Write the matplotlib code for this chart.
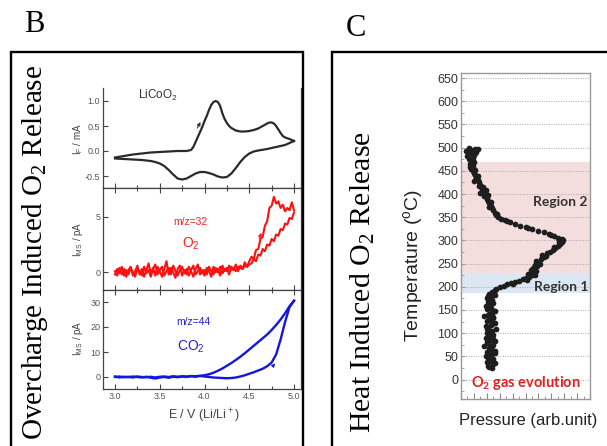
import numpy as np
import matplotlib
matplotlib.use('Agg')
import matplotlib.pyplot as plt
from matplotlib.patches import Rectangle
from matplotlib.ticker import MultipleLocator, FormatStrFormatter

plt.rcParams['font.family'] = ['Liberation Sans', 'DejaVu Sans']

W, H = 607, 446

# ---------------- Panel B data ----------------
cv_fwd_E = [3.00, 3.10, 3.20, 3.30, 3.40, 3.50, 3.60, 3.70, 3.80, 3.85, 3.875, 3.90, 3.925, 3.95,
            3.975, 4.00, 4.025, 4.05, 4.075, 4.10, 4.125, 4.15, 4.175, 4.20, 4.225, 4.25, 4.275,
            4.30, 4.35, 4.40, 4.45, 4.50, 4.55, 4.60, 4.65, 4.70, 4.725, 4.75, 4.775, 4.80, 4.825,
            4.85, 4.875, 4.90, 4.95, 5.00]
cv_fwd_I = [-0.13, -0.10, -0.07, -0.05, -0.03, -0.02, -0.01, 0.0, 0.0, 0.02, 0.08, 0.18, 0.28, 0.38,
            0.48, 0.60, 0.70, 0.82, 0.92, 0.98, 1.00, 0.98, 0.90, 0.75, 0.64, 0.56, 0.50,
            0.46, 0.41, 0.39, 0.39, 0.40, 0.42, 0.45, 0.50, 0.55, 0.57, 0.57, 0.55, 0.50, 0.43,
            0.36, 0.30, 0.27, 0.24, 0.20]
cv_rev_E = [3.00, 3.10, 3.20, 3.30, 3.40, 3.45, 3.50, 3.55, 3.60, 3.65, 3.70, 3.75, 3.80, 3.85,
            3.90, 3.95, 4.00, 4.05, 4.10, 4.15, 4.20, 4.25, 4.30, 4.35, 4.40, 4.45, 4.50, 4.55,
            4.60, 4.70, 4.80, 4.90, 5.00]
cv_rev_I = [-0.15, -0.16, -0.17, -0.18, -0.20, -0.22, -0.25, -0.30, -0.38, -0.47, -0.55, -0.57,
            -0.55, -0.50, -0.45, -0.42, -0.42, -0.44, -0.47, -0.51, -0.53, -0.52, -0.45, -0.34,
            -0.22, -0.12, -0.05, -0.01, 0.01, 0.04, 0.08, 0.12, 0.20]

o2_E = np.round(np.arange(3.0, 5.0001, 0.025), 3)
o2_fwd = [0.1, -0.3, 0.4, -0.2, 0.3, -0.4, 0.2, 0.5, -0.3, 0.1,
          0.6, -0.2, 0.3, -0.4, 0.2, 0.8, -0.1, 0.4, -0.3, 0.5,
          0.1, -0.4, 0.3, 1.0, -0.2, 0.4, 0.0, -0.5, 0.3, 0.6,
          -0.3, 0.2, -0.2, 0.5, 0.1, -0.4, 0.3, 0.7, -0.2, 0.2,
          -0.3, 0.4, 0.1, -0.4, 0.5, 0.0, 0.3, -0.3, 0.6, 0.1,
          0.4, -0.2, 0.5, 0.2, 0.7, 0.1, 0.6, 0.3, 0.9, 0.5,
          1.0, 1.4, 1.2, 2.0, 2.1, 3.0, 3.2, 4.2, 4.6, 5.8,
          6.0, 6.8, 6.2, 6.4, 5.8, 6.1, 5.5, 5.8, 5.6, 6.3,
          5.6]
o2_rev = [-0.2, 0.3, -0.1, 0.5, -0.3, 0.2, -0.2, 0.4, 0.0, -0.4,
          0.3, 0.1, -0.3, 0.5, -0.1, 0.2, -0.4, 0.3, 0.7, -0.2,
          0.2, 0.5, -0.3, 0.1, 0.4, -0.2, 0.6, 0.1, -0.3, 0.2,
          0.5, -0.1, 0.3, -0.3, 0.2, 0.6, -0.2, 0.1, 0.4, -0.1,
          0.2, -0.2, 0.5, 0.1, -0.2, 0.4, 0.0, 0.5, -0.1, 0.3,
          0.1, 0.6, 0.2, 0.4, 0.1, 0.5, 0.4, 0.3, 0.6, 0.5,
          0.7, 0.8, 1.2, 1.0, 1.6, 1.5, 2.1, 1.9, 2.5, 2.4,
          3.0, 2.8, 3.4, 3.3, 3.9, 3.8, 4.4, 4.3, 4.9, 4.8,
          5.4]

co2_E = np.round(np.arange(3.0, 5.0001, 0.05), 2)
co2_fwd = [0.2, -0.2, 0.1, -0.1, 0.2, 0.0, -0.2, 0.1, -0.3, -0.6,
           -0.2, 0.0, -0.3, 0.1, -0.1, 0.2, 0.0, 0.3, 0.1, 0.4,
           0.2, 0.0, -0.2, -0.3, -0.4, -0.5, -0.4, -0.2, 0.2, 0.7,
           1.3, 1.9, 2.6, 3.3, 4.3, 5.8, 9.0, 15.0, 22.0, 28.0,
           30.5]
co2_rev = [0.0, 0.2, -0.1, 0.1, -0.2, 0.2, 0.0, -0.1, 0.1, -0.2,
           0.1, 0.2, 0.0, 0.3, 0.1, 0.3, 0.2, 0.4, 0.3, 0.5,
           0.7, 1.1, 1.7, 2.5, 3.4, 4.5, 5.6, 6.8, 8.1, 9.5,
           11.0, 12.5, 14.0, 15.5, 17.0, 18.8, 20.8, 23.0, 25.5, 28.3,
           30.5]

# ---------------- Panel C data ----------------
col_T = [25, 30, 35, 38, 42, 45, 50, 53, 57, 60, 64, 68, 72, 75, 78, 82, 86, 90, 94, 97,
         100, 104, 108, 112, 115, 118, 122, 126, 130, 133, 137, 140, 144, 148, 152, 155, 158,
         162, 165, 168, 172, 175, 178, 182, 185,
         27, 33, 40, 47, 55, 62, 70, 80, 88, 96, 102, 110, 120, 128, 135, 142, 150, 160, 170, 180]
col_P = [2.4, 2.1, 2.6, 2.0, 2.3, 2.5, 1.9, 2.2, 2.6, 2.0, 2.4, 2.2, 1.8, 2.5, 2.1, 2.6, 2.3, 1.9,
         2.2, 2.5, 2.0, 2.4, 2.7, 2.1, 1.9, 2.3, 2.6, 2.0, 2.2, 2.5, 1.8, 2.1, 2.4, 2.6, 2.0, 2.3,
         1.9, 2.2, 2.5, 2.1, 2.4, 2.0, 2.3, 2.6, 2.2,
         2.2, 2.5, 2.3, 2.1, 2.4, 2.6, 2.3, 2.0, 2.5, 2.3, 2.2, 2.0, 2.4, 2.3, 2.5, 2.2, 2.4, 2.1, 2.3, 2.1]
rise_T = [188, 192, 196, 200, 202, 205, 208, 210, 213, 216, 219, 222, 225, 228, 230, 233, 236,
          240, 244, 248, 252, 256, 260, 264, 268, 272, 276, 280, 284, 288, 292, 296, 300,
          214, 206, 226, 249, 266, 285, 297]
rise_P = [2.4, 2.6, 2.7, 3.0, 3.3, 3.6, 3.9, 4.2, 4.5, 4.8, 5.0, 5.3, 5.5, 5.2, 5.6, 5.8, 5.4,
          5.6, 5.9, 5.7, 6.0, 5.8, 6.2, 6.4, 6.3, 6.7, 6.9, 7.1, 7.3, 7.5, 7.7, 7.6, 7.9,
          5.1, 4.0, 5.7, 6.1, 6.6, 7.2, 7.8]
fall_T = [303, 306, 310, 314, 318, 321, 325, 329, 332, 335, 339, 343, 347, 351, 355, 360, 365,
          370, 375, 380, 385, 390, 395, 400, 405, 410, 415, 420, 425, 430, 435, 440, 445, 450,
          455, 460, 465, 470, 475, 478, 482, 485, 488, 490, 492, 495, 497, 500, 498, 493,
          301, 312, 327, 341, 357, 372, 383, 398, 402, 393, 408, 418, 438, 428, 452, 458, 468,
          482, 497, 488]
fall_P = [7.8, 7.5, 7.2, 6.8, 6.4, 6.0, 5.5, 5.0, 4.6, 4.2, 3.8, 3.4, 3.1, 2.9, 2.7, 2.6, 2.5,
          2.4, 2.3, 2.2, 2.1, 2.0, 1.8, 1.9, 1.7, 1.6, 1.7, 1.5, 1.4, 1.3, 1.2, 1.1, 1.0, 0.9,
          0.8, 0.9, 0.7, 0.8, 0.6, 0.9, 0.5, 1.0, 0.7, 1.2, 0.4, 0.8, 1.1, 0.6, 1.3, 0.9,
          7.6, 7.0, 5.2, 3.6, 2.8, 2.2, 2.3, 2.1, 1.5, 2.0, 1.9, 1.4, 1.3, 1.0, 1.1, 0.7, 1.0,
          0.9, 0.6, 1.1]
temp_ticks = list(range(0, 651, 50))
region2 = (230, 470)
region1 = (186, 230)

# ---------------- figure ----------------
fig = plt.figure(figsize=(W / 100, H / 100), dpi=100)


def rect(x0, y0, x1, y1):
    return [x0 / W, 1 - y1 / H, (x1 - x0) / W, (y1 - y0) / H]


def fx(x):
    return x / W


def fy(y):
    return 1 - y / H


# boxes
for (x0, y0, x1, y1) in [(11, 52, 303, 480), (332, 52, 640, 480)]:
    fig.add_artist(Rectangle((fx(x0), fy(y1)), fx(x1) - fx(x0), fy(y0) - fy(y1),
                             transform=fig.transFigure, fill=False, lw=1.7,
                             edgecolor='black', clip_on=False))

serif = ['Liberation Serif', 'DejaVu Serif']
fig.text(fx(34), fy(24), 'B', family=serif, fontsize=22, ha='center', va='center')
fig.text(fx(356), fy(29), 'C', family=serif, fontsize=22, ha='center', va='center')
fig.text(fx(35), fy(252), r'Overcharge Induced O$\mathregular{_2}$ Release', family=serif,
         fontsize=21, rotation=90, ha='center', va='center')
fig.text(fx(363), fy(282), r'Heat Induced O$\mathregular{_2}$ Release', family=serif,
         fontsize=21.5, rotation=90, ha='center', va='center')

# ---- panel B axes ----
spine_c = '#444444'
tick_c = '#555555'
axB = [fig.add_axes(rect(103, 88, 301, 188)),
       fig.add_axes(rect(103, 188, 301, 290)),
       fig.add_axes(rect(103, 290, 301, 389))]
for i, ax in enumerate(axB):
    ax.set_xlim(2.866, 5.078)
    ax.xaxis.set_major_locator(MultipleLocator(0.5))
    ax.xaxis.set_minor_locator(MultipleLocator(0.25))
    ax.tick_params(axis='both', which='both', direction='in', top=True, labelsize=6.5,
                   colors=spine_c, labelcolor=tick_c, width=0.8, pad=2)
    ax.tick_params(which='major', length=3.5)
    ax.tick_params(which='minor', length=2)
    for s in ax.spines.values():
        s.set_color(spine_c)
        s.set_linewidth(0.9)
    if i < 2:
        ax.tick_params(labelbottom=False)
axB[0].spines['top'].set_visible(False)
axB[0].tick_params(top=False, which='both')

a0, a1, a2 = axB
a0.plot(cv_fwd_E, cv_fwd_I, color='#2a2a2a', lw=1.6)
a0.plot(cv_rev_E, cv_rev_I, color='#2a2a2a', lw=1.6)
a0.set_ylim(-0.74, 1.26)
a0.set_yticks([-0.5, 0.0, 0.5, 1.0])
a0.yaxis.set_major_formatter(FormatStrFormatter('%.1f'))
a0.text(3.48, 1.11, r'LiCoO$\mathregular{_2}$', fontsize=8.5, color='#333333', ha='center', va='center')
a0.annotate('', xy=(3.97, 0.63), xytext=(3.905, 0.41),
            arrowprops=dict(arrowstyle='-|>', color='#333333', lw=0.8, mutation_scale=5))

a1.plot(o2_E, o2_fwd, color='#ff1010', lw=1.5)
a1.plot(o2_E, o2_rev, color='#ff1010', lw=1.5)
a1.set_ylim(-1.6, 7.6)
a1.set_yticks([0, 5])
a1.text(3.84, 4.55, 'm/z=32', fontsize=7.5, color='#ff2020', ha='center', va='center')
a1.text(3.85, 2.6, r'O$\mathregular{_2}$', fontsize=10, color='#ff2020', ha='center', va='center')
a1.annotate('', xy=(4.645, 3.8), xytext=(4.60, 2.8),
            arrowprops=dict(arrowstyle='-|>', color='#ff2020', lw=0.8, mutation_scale=5))

a2.plot(co2_E, co2_fwd, color='#1515e0', lw=1.7)
a2.plot(co2_E, co2_rev, color='#1515e0', lw=1.7)
a2.set_ylim(-4.8, 34.8)
a2.set_yticks([0, 10, 20, 30])
a2.text(3.87, 22, 'm/z=44', fontsize=7.5, color='#2020dd', ha='center', va='center')
a2.text(3.85, 12, r'CO$\mathregular{_2}$', fontsize=10, color='#2020dd', ha='center', va='center')
a2.annotate('', xy=(4.81, 6.3), xytext=(4.75, 3.8),
            arrowprops=dict(arrowstyle='-|>', color='#2020dd', lw=0.8, mutation_scale=5))

fig.text(fx(78), fy(139), r'I$\mathregular{_F}$ / mA', rotation=90, fontsize=7, color='#444444',
         ha='center', va='center')
fig.text(fx(78), fy(239), r'I$\mathregular{_{MS}}$ / pA', rotation=90, fontsize=7, color='#444444',
         ha='center', va='center')
fig.text(fx(78), fy(338), r'I$\mathregular{_{MS}}$ / pA', rotation=90, fontsize=7, color='#444444',
         ha='center', va='center')
fig.text(fx(204), fy(416), r'E / V (Li/Li$\mathregular{^+}$)', fontsize=9, color='#444444',
         ha='center', va='center')

# ---- panel C axes ----
axC = fig.add_axes(rect(461, 73, 590, 399))
axC.set_xlim(0, 10)
axC.set_ylim(-42, 661)
axC.axhspan(*region2, color='#f3dedd', lw=0, zorder=0)
axC.axhspan(*region1, color='#dde7f3', lw=0, zorder=0)
axC.set_yticks(temp_ticks)
axC.yaxis.set_minor_locator(MultipleLocator(25))
axC.xaxis.set_major_locator(MultipleLocator(1))
axC.xaxis.set_minor_locator(MultipleLocator(0.5))
axC.tick_params(axis='x', which='both', direction='in', labelbottom=False, colors='#888888')
axC.tick_params(axis='x', which='major', length=4)
axC.tick_params(axis='x', which='minor', length=2)
axC.tick_params(axis='y', which='both', direction='in', labelsize=9, colors='#999999',
                labelcolor='#333333', pad=2)
axC.tick_params(axis='y', which='major', length=3)
axC.tick_params(axis='y', which='minor', length=2)
axC.yaxis.grid(True, linestyle=(0, (1, 1.5)), color='#aaaaaa', lw=0.7, zorder=1)
axC.set_axisbelow(True)
for s in axC.spines.values():
    s.set_color('#999999')
    s.set_linewidth(1.0)
for P, T in [(col_P, col_T), (rise_P, rise_T), (fall_P, fall_T)]:
    axC.scatter(P, T, s=17, color='#1e1e1e', lw=0, zorder=3)
axC.text(7.67, 383, 'Region 2', fontsize=10, fontweight='bold', color='#333333',
         family=['Lato', 'DejaVu Sans'], ha='center', va='center', zorder=4)
axC.text(7.75, 199, 'Region 1', fontsize=10, fontweight='bold', color='#333333',
         family=['Lato', 'DejaVu Sans'], ha='center', va='center', zorder=4)
axC.text(5.04, -8, r'O$\mathregular{_2}$ gas evolution', fontsize=10.5, fontweight='bold',
         color='#e02020', family=['Lato', 'DejaVu Sans'], ha='center', va='center', zorder=4)

fig.text(fx(413), fy(265), 'Temperature ($\\mathregular{^o}$C)', rotation=90, fontsize=14,
         color='#222222', ha='center', va='center')
fig.text(fx(528), fy(421), 'Pressure (arb.unit)', fontsize=12, color='#222222',
         ha='center', va='center')

fig.savefig('out.png', dpi=100)
